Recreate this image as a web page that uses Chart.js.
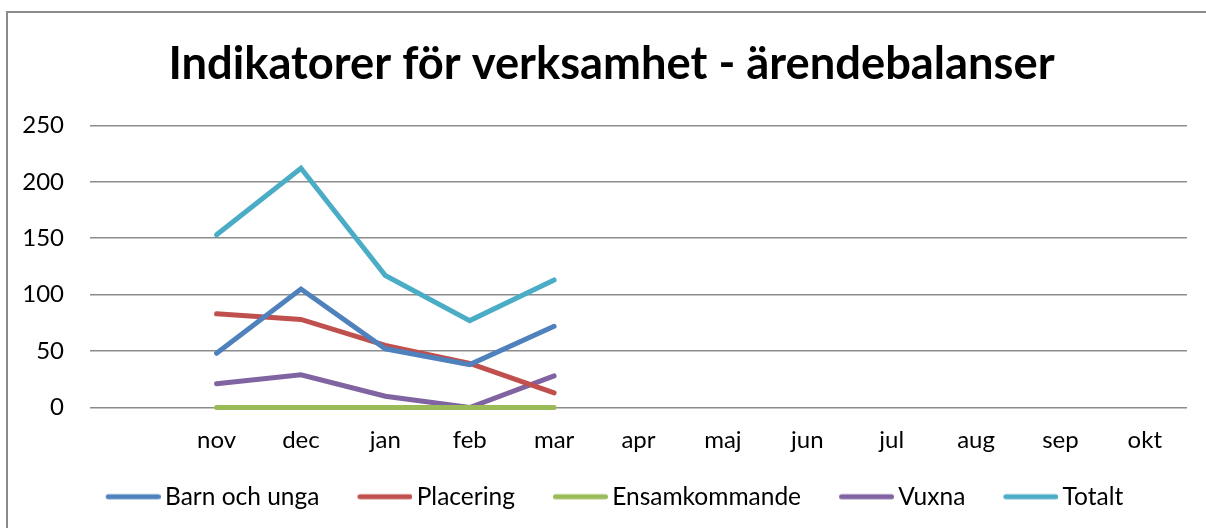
<!DOCTYPE html>
<html>
<head>
<meta charset="utf-8">
<script src="https://cdn.jsdelivr.net/npm/chart.js@4.4.1/dist/chart.umd.min.js"></script>
<style>
    body { margin: 0; background: #fff; overflow: hidden; }
    #wrap { position: relative; width: 1206px; height: 528px; overflow: hidden; }
</style>
</head>
<body>
<div id="wrap">
<canvas id="chart" width="1206" height="528"></canvas>
</div>
<script>
// Months (first category is left empty like in the original)
const months = ["", "nov", "dec", "jan", "feb", "mar", "apr", "maj", "jun", "jul", "aug", "sep", "okt"];

const barnOchUnga = [null, 48, 105, 52, 38, 72, null, null, null, null, null, null, null];
const placering = [null, 83, 78, 55, 39, 13, null, null, null, null, null, null, null];
const ensamkommande = [null, 0, 0, 0, 0, 0, null, null, null, null, null, null, null];
const vuxna = [null, 21, 29, 10, 0, 28, null, null, null, null, null, null, null];
const totalt = [null, 153, 212, 117, 77, 113, null, null, null, null, null, null, null];

const yTicks = [0, 50, 100, 150, 200, 250];

const fontFamily = "Lato, 'Open Sans', sans-serif";

function makeSeries(label, data, color) {
    return {
        label: label,
        data: data,
        borderColor: color,
        backgroundColor: color,
        borderWidth: 5,
        borderCapStyle: "round",
        pointRadius: 0,
        pointHoverRadius: 0,
        tension: 0,
        fill: false,
        clip: false,
    };
}

// Legend swatch: a short round-capped line, shifted right so it sits close to the text
function lineSwatch(color) {
    const c = document.createElement("canvas");
    c.width = 71;
    c.height = 10;
    const g = c.getContext("2d");
    g.strokeStyle = color;
    g.lineWidth = 5;
    g.lineCap = "round";
    g.beginPath();
    g.moveTo(18.5, 5);
    g.lineTo(68.5, 5);
    g.stroke();
    return c;
}

// Grey frame around the chart (only top and left edges are visible)
const framePlugin = {
    id: "frame",
    beforeDraw(chart) {
        const c = chart.ctx;
        c.save();
        c.strokeStyle = "#8a8a8a";
        c.lineWidth = 2;
        c.beginPath();
        c.moveTo(7, chart.height + 2);
        c.lineTo(7, 12);
        c.lineTo(chart.width + 2, 12);
        c.stroke();
        c.restore();
    },
};

// Title and legend sit a bit right of the canvas centre in the original
const nudgePlugin = {
    id: "nudge",
    afterLayout(chart) {
        if (chart.titleBlock) {
            chart.titleBlock.left += 18;
            chart.titleBlock.right += 18;
        }
        if (chart.legend) {
            chart.legend.left += 17;
            chart.legend.right += 17;
        }
    },
};

const ctx = document.getElementById("chart").getContext("2d");

new Chart(ctx, {
    type: "line",
    data: {
        labels: months,
        datasets: [
            makeSeries("Barn och unga", barnOchUnga, "#4f81bd"),
            makeSeries("Placering", placering, "#c0504d"),
            makeSeries("Ensamkommande", ensamkommande, "#9bbb59"),
            makeSeries("Vuxna", vuxna, "#8064a2"),
            makeSeries("Totalt", totalt, "#4bacc6"),
        ],
    },
    plugins: [framePlugin, nudgePlugin],
    options: {
        responsive: false,
        animation: false,
        layout: { padding: { left: 0, right: 19, top: 0, bottom: 9 } },
        plugins: {
            title: {
                display: true,
                text: "Indikatorer för verksamhet - ärendebalanser",
                color: "#000",
                font: { family: fontFamily, size: 45.3, weight: "bold" },
                padding: { top: 37, bottom: 34 },
            },
            legend: {
                position: "bottom",
                labels: {
                    color: "#000",
                    font: { family: fontFamily, size: 24.5 },
                    usePointStyle: true,
                    pointStyleWidth: 55,
                    padding: 30,
                    generateLabels: (chart) => {
                        const items = Chart.defaults.plugins.legend.labels.generateLabels(chart);
                        items.forEach((item) => {
                            item.pointStyle = lineSwatch(item.strokeStyle);
                        });
                        return items;
                    },
                },
            },
            tooltip: { enabled: false },
        },
        scales: {
            x: {
                offset: true,
                afterFit: (scale) => {
                    scale.height = 47;
                    scale._computeLabelArea = () => undefined; // keep labels unclipped
                },
                grid: { display: false, drawTicks: false },
                border: { display: false },
                ticks: {
                    color: "#000",
                    font: { family: fontFamily, size: 24 },
                    padding: 18,
                    maxRotation: 0,
                    autoSkip: false,
                },
            },
            y: {
                min: 0,
                max: 250,
                afterBuildTicks: (scale) => {
                    scale.ticks = yTicks.map((v) => ({ value: v }));
                },
                afterFit: (scale) => {
                    scale.width = 90;
                },
                grid: { color: "#8c8c8c", lineWidth: 1.5, drawTicks: false },
                border: { display: false },
                ticks: {
                    color: "#000",
                    font: { family: fontFamily, size: 24 },
                    padding: 26,
                },
            },
        },
    },
});
</script>
</body>
</html>
